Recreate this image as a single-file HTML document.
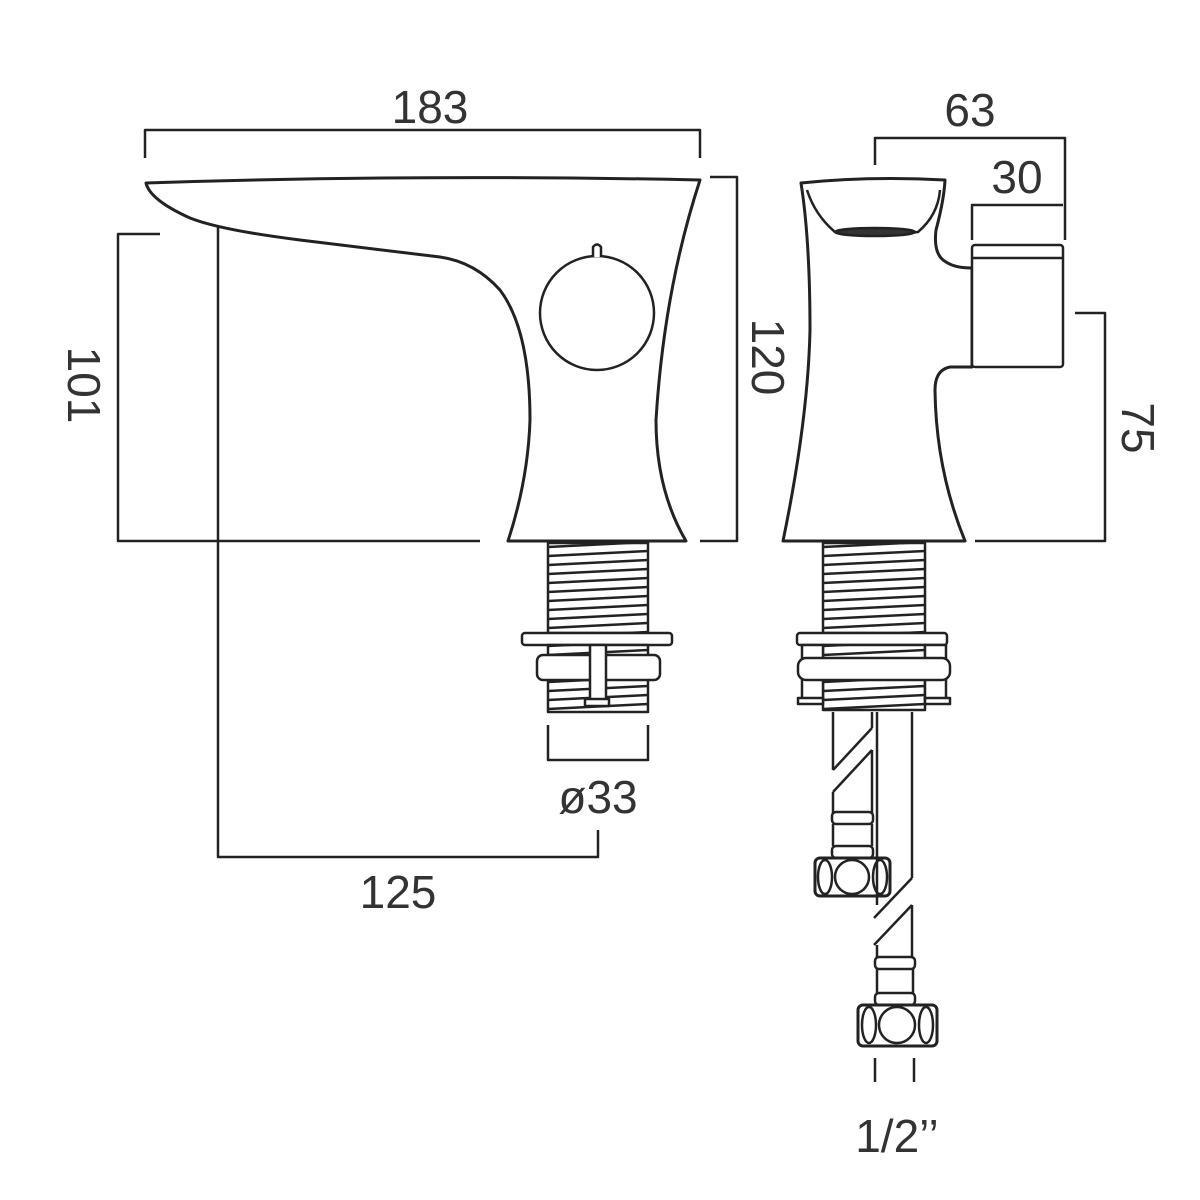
<!DOCTYPE html>
<html><head><meta charset="utf-8"><style>
html,body{margin:0;padding:0;background:#fff;}
svg{display:block;}
text{font-family:"Liberation Sans",sans-serif;fill:#333;font-size:46px;}
</style></head><body>
<svg width="1200" height="1200" viewBox="0 0 1200 1200" xmlns="http://www.w3.org/2000/svg">
<defs>
<pattern id="thrL" x="548" y="0" width="100" height="9" patternUnits="userSpaceOnUse">
<rect width="100" height="9" fill="#fff"/>
<line x1="0" y1="7" x2="100" y2="2" stroke="#222" stroke-width="2.6"/>
</pattern>
<pattern id="thrR" x="823" y="0" width="102" height="9" patternUnits="userSpaceOnUse">
<rect width="102" height="9" fill="#fff"/>
<line x1="0" y1="7" x2="102" y2="2" stroke="#222" stroke-width="2.6"/>
</pattern>
</defs>
<g fill="none" stroke="#222" stroke-width="2.5" stroke-linejoin="round">
<polyline points="145,158 145,130 700,130 700,158"/>
<polyline points="160,234 118,234 118,541 480,541"/>
<polyline points="710,177 737,177 737,541 700,541"/>
<polyline points="218,225 218,857 598,857 598,830"/>
<polyline points="548,725 548,760 648,760 648,725"/>

<path d="M146,183 Q420,174 700,180 Q664,290 656,420 Q656,490 686,541 L508,541 Q528,480 530,420 Q530,330 500,290 Q475,262 440,257 L300,240 Q220,230 190,218 Q150,200 146,183 Z" fill="#fff" stroke-width="3"/>
<ellipse cx="597" cy="313" rx="57" ry="57" fill="#fff"/>
<path d="M593,257 L593,247 Q597,242 601,247 L601,257" fill="#fff"/>

<rect x="548" y="543" width="100" height="90" fill="url(#thrL)"/>
<rect x="522" y="633" width="150" height="12" rx="3" fill="#fff"/>
<rect x="548" y="645" width="100" height="67" fill="url(#thrL)"/>
<rect x="537" y="655" width="123" height="25" rx="6" fill="#fff"/>
<rect x="590" y="645" width="16" height="55" fill="#fff"/>
<rect x="585" y="699" width="24" height="7" fill="#fff"/>

<path d="M801,183 Q870,176 945,180 Q944,200 936,230 Q933,255 946,262 Q955,268 972,268 L972,367 L950,367 Q935,370 935,390 Q936,470 965,541 L783,541 Q808,420 810,330 Q810,240 801,183 Z" fill="#fff" stroke-width="3"/>
<path d="M807,190 Q815,215 835,232 Q875,238 918,232 Q938,215 940,190"/>
<ellipse cx="875" cy="232" rx="40" ry="4" fill="#333"/>
<rect x="972" y="245" width="91" height="122" rx="3" fill="#fff"/>
<line x1="972" y1="258" x2="1063" y2="258"/>
<polyline points="972,240 972,205 1063,205"/>
<polyline points="875,165 875,138 1065,138 1065,240"/>
<polyline points="1075,313 1105,313 1105,541 975,541"/>

<rect x="823" y="543" width="102" height="90" fill="url(#thrR)"/>
<rect x="797" y="633" width="150" height="12" rx="3" fill="#fff"/>
<rect x="823" y="645" width="102" height="65" fill="url(#thrR)"/>
<rect x="802" y="645" width="21" height="55" fill="#fff"/>
<rect x="925" y="645" width="21" height="55" fill="#fff"/>
<rect x="798" y="658" width="152" height="22" rx="8" fill="#fff"/>
<rect x="798" y="698" width="25" height="6" fill="#fff"/>
<rect x="925" y="698" width="25" height="6" fill="#fff"/>

<line x1="833" y1="712" x2="833" y2="770"/>
<line x1="872" y1="712" x2="872" y2="728"/>
<line x1="833" y1="770" x2="872" y2="728"/>
<line x1="833" y1="792" x2="872" y2="750"/>
<line x1="833" y1="792" x2="833" y2="815"/>
<line x1="872" y1="750" x2="872" y2="815"/>
<rect x="832" y="812" width="41" height="12" rx="4" fill="#fff"/>
<rect x="832" y="846" width="41" height="12" rx="4" fill="#fff"/>
<line x1="833" y1="824" x2="833" y2="846"/>
<line x1="872" y1="824" x2="872" y2="846"/>
<rect x="815" y="858" width="75" height="38" rx="5" fill="#fff" stroke-width="3"/>
<ellipse cx="852" cy="877" rx="17" ry="17"/>
<ellipse cx="825" cy="877" rx="7" ry="17"/>
<ellipse cx="880" cy="877" rx="7" ry="17"/>

<line x1="877" y1="712" x2="877" y2="905"/>
<line x1="912" y1="712" x2="912" y2="878"/>
<line x1="874" y1="918" x2="912" y2="878"/>
<line x1="874" y1="945" x2="912" y2="905"/>
<line x1="877" y1="945" x2="877" y2="958"/>
<line x1="912" y1="905" x2="912" y2="958"/>
<rect x="875" y="957" width="40" height="12" rx="4" fill="#fff"/>
<rect x="875" y="993" width="40" height="12" rx="4" fill="#fff"/>
<line x1="877" y1="969" x2="877" y2="993"/>
<line x1="913" y1="969" x2="913" y2="993"/>
<rect x="858" y="1005" width="79" height="41" rx="5" fill="#fff" stroke-width="3"/>
<ellipse cx="897" cy="1025" rx="18" ry="18"/>
<ellipse cx="869" cy="1025" rx="7" ry="18"/>
<ellipse cx="926" cy="1025" rx="7" ry="18"/>
<polyline points="875,1058 875,1082"/>
<polyline points="914,1058 914,1082"/>
</g>

<text x="430" y="123" text-anchor="middle">183</text>
<text x="970" y="126" text-anchor="middle">63</text>
<text x="1017" y="193" text-anchor="middle">30</text>
<text x="398" y="908" text-anchor="middle">125</text>
<text x="598" y="813" text-anchor="middle">ø33</text>
<text x="897" y="1152" text-anchor="middle">1/2’’</text>
<text transform="translate(68,385) rotate(90)" text-anchor="middle">101</text>
<text transform="translate(752,357) rotate(90)" text-anchor="middle">120</text>
<text transform="translate(1122,428) rotate(90)" text-anchor="middle">75</text>
</svg>
</body></html>
